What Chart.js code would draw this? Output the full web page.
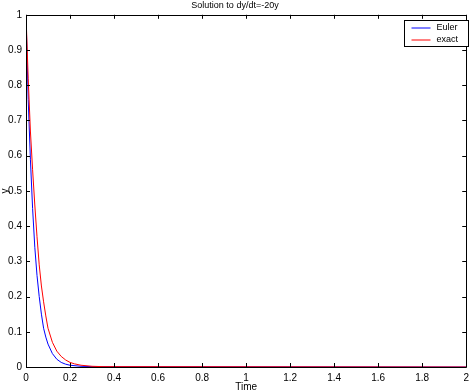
<!DOCTYPE html>
<html>
<head>
<meta charset="utf-8">
<script src="https://cdn.jsdelivr.net/npm/chart.js@4"></script>
<style>
  html, body { margin: 0; padding: 0; background: #fff; }
  #wrap { width: 474px; height: 392px; }
</style>
</head>
<body>
<div id="wrap"><canvas id="chart" width="474" height="392"></canvas></div>
<script>
// values
const eulerT = [0, 0.01, 0.02, 0.03, 0.04, 0.05, 0.06, 0.07, 0.08, 0.09, 0.10, 0.12, 0.14, 0.16, 0.18, 0.20, 0.25, 0.30, 2];
const eulerY = [1, 0.76, 0.59, 0.45, 0.34, 0.26, 0.20, 0.15, 0.11, 0.085, 0.065, 0.038, 0.022, 0.013, 0.008, 0.005, 0.002, 0.001, 0];
const exactT = [0, 0.01, 0.02, 0.03, 0.04, 0.05, 0.06, 0.07, 0.08, 0.09, 0.10, 0.12, 0.14, 0.16, 0.18, 0.20, 0.22, 0.25, 0.30, 0.35, 2];
const exactY = [1, 0.82, 0.67, 0.56, 0.46, 0.37, 0.29, 0.23, 0.185, 0.145, 0.11, 0.07, 0.045, 0.03, 0.02, 0.013, 0.009, 0.005, 0.002, 0.001, 0];
const xTicks = [0, 0.2, 0.4, 0.6, 0.8, 1, 1.2, 1.4, 1.6, 1.8, 2];
const yTicks = [0, 0.1, 0.2, 0.3, 0.4, 0.5, 0.6, 0.7, 0.8, 0.9, 1];

const FONT = "'Liberation Sans', Arial, Helvetica, sans-serif";

// matlab style labels: 0, 0.2 ... 1, no trailing zeros
function fmt(v) {
  return String(+Number(v).toFixed(2));
}

// box + inward ticks + legend, like the old matlab plots
const boxPlugin = {
  id: "box",
  afterDraw(chart) {
    const ctx = chart.ctx;
    const a = chart.chartArea;
    const xs = chart.scales.x, ys = chart.scales.y;
    ctx.save();
    ctx.strokeStyle = "#000";
    ctx.lineWidth = 1;
    ctx.beginPath();
    ctx.rect(Math.round(a.left) + 0.5, Math.round(a.top) + 0.5, Math.round(a.right - a.left), Math.round(a.bottom - a.top));
    ctx.stroke();
    ctx.beginPath();
    for (const v of xTicks) {
      const px = Math.round(xs.getPixelForValue(v)) + 0.5;
      ctx.moveTo(px, a.bottom); ctx.lineTo(px, a.bottom - 4);
      ctx.moveTo(px, a.top); ctx.lineTo(px, a.top + 4);
    }
    for (const v of yTicks) {
      const py = Math.round(ys.getPixelForValue(v)) + 0.5;
      ctx.moveTo(a.left, py); ctx.lineTo(a.left + 4, py);
      ctx.moveTo(a.right, py); ctx.lineTo(a.right - 4, py);
    }
    ctx.stroke();

    // legend
    const lx = 404.5, ly = 20.5, lw = 64, lh = 26;
    ctx.fillStyle = "#fff";
    ctx.fillRect(lx, ly, lw, lh);
    ctx.strokeRect(lx, ly, lw, lh);
    ctx.font = "9px " + FONT;
    ctx.textBaseline = "middle";
    chart.data.datasets.forEach((ds, i) => {
      const yy = ly + 7.5 + i * 12;
      ctx.strokeStyle = ds.borderColor;
      ctx.beginPath();
      ctx.moveTo(lx + 7, yy); ctx.lineTo(lx + 26, yy);
      ctx.stroke();
      ctx.fillStyle = "#000";
      ctx.fillText(ds.label, lx + 32, yy);
    });
    ctx.restore();
  }
};

new Chart(document.getElementById("chart"), {
  type: "line",
  data: {
    datasets: [
      {
        label: "Euler",
        data: eulerT.map((t, i) => ({ x: t, y: eulerY[i] })),
        borderColor: "#0000ff",
        borderWidth: 1,
        pointRadius: 0,
        tension: 0,
        order: 1
      },
      {
        label: "exact",
        data: exactT.map((t, i) => ({ x: t, y: exactY[i] })),
        borderColor: "#ff0000",
        borderWidth: 1,
        pointRadius: 0,
        tension: 0,
        order: 0
      }
    ]
  },
  options: {
    responsive: false,
    animation: false,
    layout: { padding: { left: 0, right: 4, top: 0, bottom: 0 } },
    plugins: {
      legend: { display: false },
      tooltip: { enabled: false },
      title: {
        display: true,
        text: "Solution to dy/dt=-20y",
        color: "#000",
        font: { family: FONT, size: 9, weight: "normal", lineHeight: 1.2 },
        padding: { top: 0, bottom: 4 }
      }
    },
    scales: {
      x: {
        type: "linear",
        min: 0,
        max: 2,
        afterBuildTicks: s => { s.ticks = xTicks.map(v => ({ value: v })); },
        afterFit: s => { s.height = 25; },
        grid: { display: false, drawTicks: false },
        border: { display: false },
        ticks: { color: "#000", padding: 5, maxRotation: 0, callback: fmt, font: { family: FONT, size: 10 } },
        title: { display: true, text: "Time", color: "#000", padding: 0, font: { family: FONT, size: 10, lineHeight: 1 } }
      },
      y: {
        type: "linear",
        min: 0,
        max: 1,
        afterBuildTicks: s => { s.ticks = yTicks.map(v => ({ value: v })); },
        afterFit: s => { s.width = 26; },
        grid: { display: false, drawTicks: false },
        border: { display: false },
        ticks: { color: "#000", padding: 4, callback: fmt, font: { family: FONT, size: 10 } },
        title: { display: true, text: "y", color: "#000", padding: 0, font: { family: FONT, size: 10, lineHeight: 1 } }
      }
    }
  },
  plugins: [boxPlugin]
});
</script>
</body>
</html>
